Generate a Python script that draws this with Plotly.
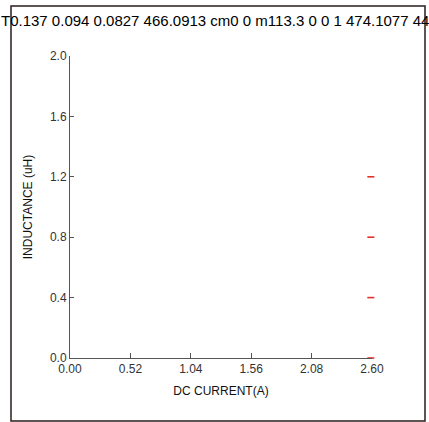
import plotly.graph_objects as go

# Data
current_a = [2.59, 2.59, 2.59, 2.59]
inductance_uh = [0.0, 0.4, 0.8, 1.2]
x_ticks = [0.00, 0.52, 1.04, 1.56, 2.08, 2.60]
x_tick_labels = ["0.00", "0.52", "1.04", "1.56", "2.08", "2.60"]
y_ticks = [0.0, 0.4, 0.8, 1.2, 1.6, 2.0]
y_tick_labels = ["0.0", "0.4", "0.8", "1.2", "1.6", "2.0"]
header_text = "T0.137 0.094 0.0827 466.0913 cm0 0 m113.3 0 0 1 474.1077 446.4 l"

W, H = 429, 422
L, R, T, B = 70, 372, 56, 358


def px(x):
    return (x - L) / (R - L)


def py(y):
    return (B - y) / (B - T)


font = "Liberation Sans, Arial, sans-serif"

fig = go.Figure()
fig.add_trace(go.Scatter(
    x=current_a, y=inductance_uh, mode="markers",
    marker=dict(symbol="line-ew", size=5, line=dict(color="#e8302a", width=1.6)),
    showlegend=False, cliponaxis=False, hoverinfo="skip",
))

fig.update_layout(
    width=W, height=H,
    margin=dict(l=L, r=W - R, t=T, b=H - B, pad=0),
    paper_bgcolor="white", plot_bgcolor="white",
    font=dict(family=font, size=12, color="#333333"),
    xaxis=dict(
        range=[0, 2.6], tickvals=x_ticks, ticktext=x_tick_labels,
        showgrid=False, zeroline=False, showline=True, linecolor="#555555", linewidth=1,
        ticks="inside", ticklen=5, tickcolor="#555555",
        tickfont=dict(size=12, color="#333333"),
        title=dict(text="DC CURRENT(A)", font=dict(size=12, color="#111111"), standoff=11),
    ),
    yaxis=dict(
        range=[0, 2.0], tickvals=y_ticks, ticktext=y_tick_labels,
        showgrid=False, zeroline=False, showline=True, linecolor="#555555", linewidth=1,
        ticks="inside", ticklen=4, tickcolor="#555555",
        tickfont=dict(size=12, color="#333333"),
        title=dict(text="INDUCTANCE (uH)", font=dict(size=12, color="#111111"), standoff=14),
    ),
    shapes=[dict(
        type="rect", xref="paper", yref="paper",
        x0=px(11), x1=px(425), y0=py(421), y1=py(6),
        line=dict(color="#2a1c1c", width=1.5), fillcolor="rgba(0,0,0,0)", layer="below",
    )],
    annotations=[dict(
        text=header_text, xref="paper", yref="paper",
        x=px(-1), y=py(21), xanchor="left", yanchor="middle",
        showarrow=False, font=dict(size=15, color="#000000", family=font),
    )],
)

fig.write_html(
    "out.html",
    config={"displayModeBar": False},
    post_script="document.body.style.margin='0px';document.body.style.overflow='hidden';",
)
